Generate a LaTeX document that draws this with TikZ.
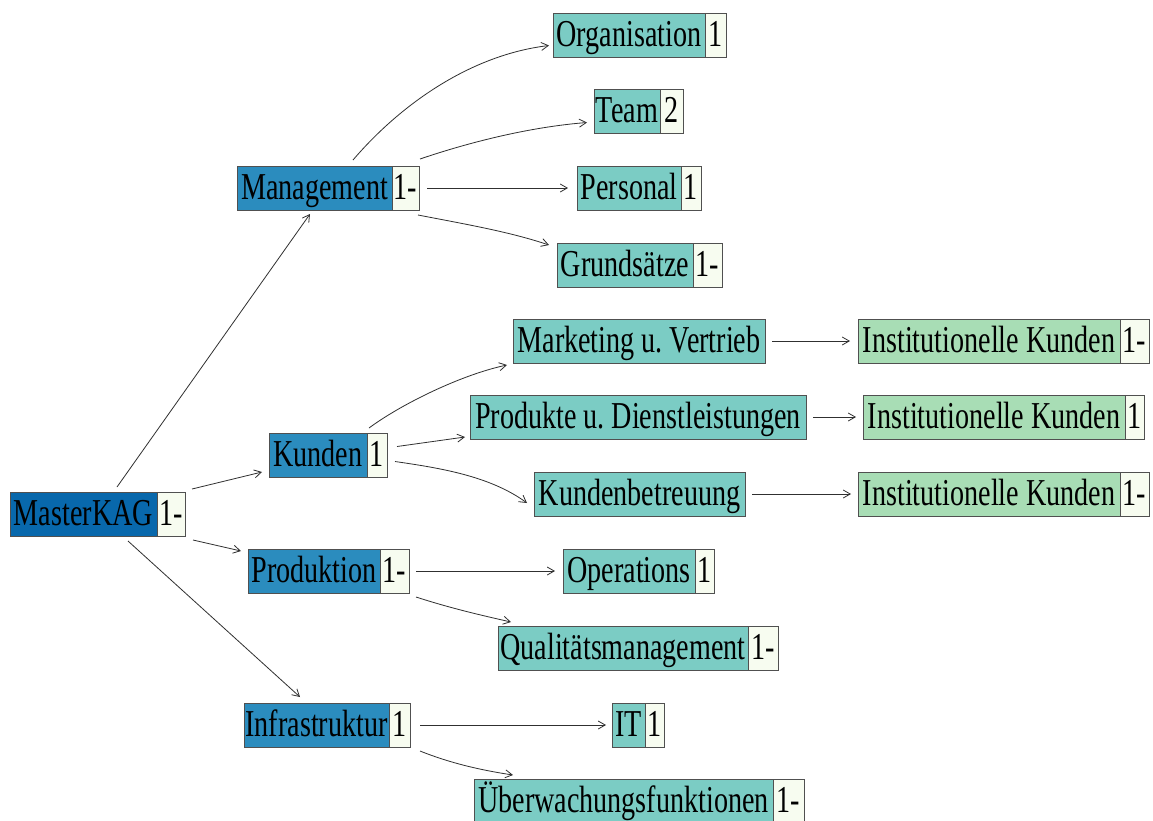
\documentclass[tikz,border=0pt]{standalone}
\usepackage{fontspec}
\setmainfont{Liberation Serif}[FakeStretch=0.74]
\usetikzlibrary{arrows.meta}
\frenchspacing
\definecolor{cA}{HTML}{0868AC}
\definecolor{cB}{HTML}{2B8CBE}
\definecolor{cC}{HTML}{7BCCC4}
\definecolor{cD}{HTML}{A8DDB5}
\definecolor{cN}{HTML}{F7FCF0}
\definecolor{bordergray}{HTML}{505050}
\definecolor{edgegray}{HTML}{303030}
\tikzset{
  box/.style={draw=bordergray, line width=0.9pt, inner xsep=0pt, inner ysep=0pt, outer sep=0pt,
    minimum height=44pt, text height=33pt, text depth=11pt, anchor=north west,
    font=\fontsize{38}{40}\selectfont},
  edge/.style={draw=edgegray, line width=0.8pt, -{Straight Barb[length=7pt,width=8pt]}},
}
\newcommand\pairnode[8]{%
  \node[box, fill=#6, minimum width={#4-#2}] (#1) at (#2,#3) {#7};
  \node[box, fill=cN, minimum width={#5-#4}] (#1n) at (#1.north east) {#8};
}
\begin{document}
\begin{tikzpicture}[x=1pt,y=-1pt]
\useasboundingbox[fill=white] (0,0) rectangle (1153,820);
% level 0
\pairnode{mk}{10}{492}{157}{185}{cA}{MasterKAG}{1-}
% level 1
\pairnode{mg}{237}{166}{392}{419}{cB}{Management}{1-}
\pairnode{ku}{269}{433}{367}{387}{cB}{Kunden}{1}
\pairnode{pr}{248}{549}{380}{409}{cB}{Produktion}{1-}
\pairnode{in}{244}{703}{389}{410}{cB}{Infrastruktur}{1}
% level 2
\pairnode{org}{553}{13}{705}{726}{cC}{Organisation}{1}
\pairnode{tm}{594}{89}{660}{683}{cC}{Team}{2}
\pairnode{pe}{577}{166}{681}{701}{cC}{Personal}{1}
\pairnode{gr}{557}{243}{693}{722}{cC}{Grundsätze}{1-}
\node[box, fill=cC, minimum width=252] (mv) at (513,319) {Marketing u. Vertrieb};
\node[box, fill=cC, minimum width=336] (pd) at (470,395) {Produkte u. Dienstleistungen};
\node[box, fill=cC, minimum width=211] (kb) at (534,472) {Kundenbetreuung};
\pairnode{op}{563}{549}{695}{714}{cC}{Operations}{1}
\pairnode{qm}{498}{626}{748}{778}{cC}{Qualitätsmanagement}{1-}
\pairnode{it}{612}{703}{645}{664}{cC}{IT}{1}
\pairnode{uw}{474}{779}{773}{804}{cC}{Überwachungsfunktionen}{1-}
% level 3
\pairnode{ia}{858}{319}{1120}{1149}{cD}{Institutionelle Kunden}{1-}
\pairnode{ib}{863}{395}{1125}{1144}{cD}{Institutionelle Kunden}{1}
\pairnode{ic}{858}{472}{1120}{1149}{cD}{Institutionelle Kunden}{1-}
% edges from MasterKAG
\draw[edge] ([xshift=33.5,yshift=5]mk.north) -- ([xshift=-4.5,yshift=-4]mg.south);
\draw[edge] ([xshift=7,yshift=3]mkn.north east) -- ([xshift=-7,yshift=5]ku.south west);
\draw[edge] ([xshift=8,yshift=-4]mkn.south east) -- ([xshift=-7,yshift=-2]pr.north west);
\draw[edge] ([xshift=44.5,yshift=-5]mk.south) -- ([xshift=-16.5,yshift=6]in.north);
% Management
\draw[edge] ([xshift=38.5,yshift=6]mg.north) .. controls (400,105) and (470,55) .. ([xshift=-4,yshift=-10.5]org.west);
\draw[edge] ([xshift=1,yshift=7]mgn.north east) .. controls (470,142) and (530,127) .. ([xshift=-7,yshift=-11.5]tm.west);
\draw[edge] ([xshift=8]mgn.east) -- ([xshift=-9]pe.west);
\draw[edge] ([xshift=-1,yshift=-5]mgn.south east) .. controls (470,225) and (510,232) .. ([xshift=-8,yshift=-2]gr.north west);
% Kunden
\draw[edge] ([xshift=2,yshift=5]ku.north east) .. controls (400,405) and (460,375) .. ([xshift=-6,yshift=-2]mv.south west);
\draw[edge] ([xshift=10,yshift=8.5]kun.east) -- ([xshift=-5,yshift=2]pd.south west);
\draw[edge] ([xshift=8,yshift=-6.5]kun.east) .. controls (440,468) and (490,476) .. ([xshift=-7,yshift=-9]kb.west);
\draw[edge] ([xshift=7]mv.east) -- ([xshift=-8]ia.west);
\draw[edge] ([xshift=7]pd.east) -- ([xshift=-7]ib.west);
\draw[edge] ([xshift=7]kb.east) -- ([xshift=-7]ic.west);
% Produktion
\draw[edge] ([xshift=7]prn.east) -- ([xshift=-8]op.west);
\draw[edge] ([xshift=7,yshift=-4]prn.south east) .. controls (450,608) and (480,615) .. ([xshift=13,yshift=4]qm.north west);
% Infrastruktur
\draw[edge] ([xshift=10]inn.east) -- ([xshift=-6]it.west);
\draw[edge] ([xshift=10,yshift=-4]inn.south east) .. controls (450,763) and (480,770) .. ([xshift=39,yshift=4]uw.north west);
\end{tikzpicture}
\end{document}
